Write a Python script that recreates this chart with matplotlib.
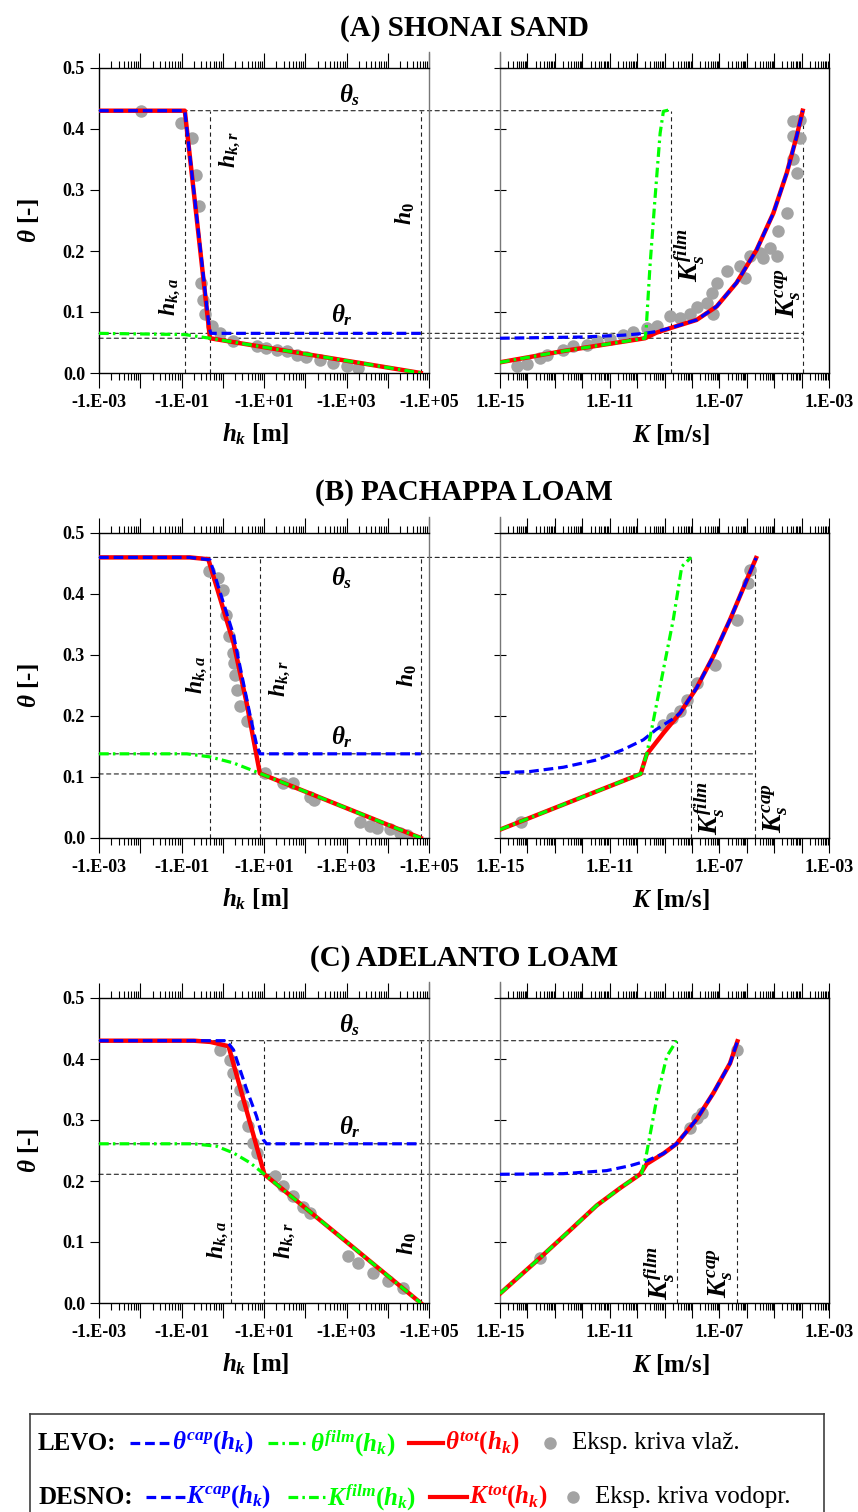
import numpy as np
import matplotlib
matplotlib.use('Agg')
import matplotlib.pyplot as plt
from matplotlib.ticker import FixedLocator, LogLocator, NullFormatter, FuncFormatter, MultipleLocator, FormatStrFormatter
from matplotlib.patches import ConnectionPatch

plt.rcParams['font.family'] = ['Liberation Serif', 'DejaVu Serif']
plt.rcParams['font.weight'] = 'bold'
plt.rcParams['mathtext.fontset'] = 'custom'
plt.rcParams['mathtext.rm'] = 'Liberation Serif:bold'
plt.rcParams['mathtext.it'] = 'Liberation Serif:italic:bold'
plt.rcParams['mathtext.bf'] = 'Liberation Serif:bold'
plt.rcParams['lines.scale_dashes'] = False

SIVA = '#a3a3a3'
ZELENA = '#00ff00'
CRT = '#222222'

# ---------------- (A) SHONAI SAND ----------------
A_ths, A_thr, A_thkr = 0.43, 0.065, 0.057
A_lghka, A_lghkr, A_lgh0 = -0.92, -0.31, 4.8
A_lgKfilm, A_lgKcap = -8.76, -3.96
# levo: theta(h), x = log10|h| [m]
A_tot_lgh = [-3, -0.92, -0.31, 4.8]
A_tot_th = [0.43, 0.43, 0.057, 0.0]
A_cap_lgh = [-3, -0.92, -0.33, -0.29, 4.8]
A_cap_th = [0.43, 0.43, 0.075, 0.065, 0.065]
A_film_lgh = [-3, -0.92, -0.31, 4.8]
A_film_th = [0.065, 0.063, 0.057, 0.0]
A_pts_lgh = [-1.97, -1.01, -0.75, -0.65, -0.58, -0.53, -0.49, -0.43, -0.27, -0.07, 0.26,
             0.82, 1.06, 1.31, 1.55, 1.79, 2.03, 2.36, 2.68, 3.0, 3.29]
A_pts_th = [0.43, 0.41, 0.385, 0.325, 0.273, 0.147, 0.12, 0.096, 0.077, 0.066, 0.052,
            0.044, 0.041, 0.038, 0.036, 0.030, 0.027, 0.022, 0.016, 0.011, 0.008]
# desno: theta(K), x = log10 K [m/s]
A_Ktot_lg = [-15, -12.69, -9.71, -9.3, -8.76, -7.83, -7.1, -6.37, -5.64, -5.03, -4.54, -4.18, -3.96]
A_Ktot_th = [0.0175, 0.036, 0.057, 0.066, 0.074, 0.087, 0.109, 0.148, 0.202, 0.262, 0.328, 0.388, 0.43]
A_Kcap_lg = [-15, -12.0, -10.5, -9.71, -9.3, -8.76, -7.83, -7.1, -6.37, -5.64, -5.03, -4.54, -4.18, -3.96]
A_Kcap_th = [0.057, 0.059, 0.062, 0.065, 0.068, 0.074, 0.087, 0.109, 0.148, 0.202, 0.262, 0.328, 0.388, 0.43]
A_Kfilm_lg = [-15, -12.69, -9.71, -9.67, -9.53, -9.35, -9.16, -9.04, -8.76]
A_Kfilm_th = [0.0175, 0.036, 0.057, 0.071, 0.175, 0.284, 0.393, 0.429, 0.432]
A_Kpts_lg = [-14.39, -14.03, -13.54, -13.30, -12.69, -12.33, -11.84, -11.47, -10.99, -10.50, -10.14,
             -9.65, -9.29, -8.80, -8.43, -8.07, -7.83, -7.46, -7.22, -7.28, -7.10, -6.73, -6.25,
             -6.06, -5.88, -5.52, -5.40, -5.15, -4.91, -4.85, -4.54, -4.18, -4.30, -4.30, -4.06,
             -4.30, -4.06]
A_Kpts_th = [0.011, 0.014, 0.025, 0.030, 0.038, 0.044, 0.046, 0.052, 0.055, 0.063, 0.068,
             0.074, 0.077, 0.093, 0.090, 0.096, 0.109, 0.115, 0.096, 0.131, 0.148, 0.167, 0.175,
             0.156, 0.191, 0.197, 0.189, 0.205, 0.191, 0.232, 0.262, 0.328, 0.350, 0.388, 0.385,
             0.413, 0.415]

# ---------------- (B) PACHAPPA LOAM ----------------
B_ths, B_thr, B_thkr = 0.46, 0.138, 0.105
B_lghka, B_lghkr, B_lgh0 = -0.31, 0.90, 4.8
B_lgKfilm, B_lgKcap = -8.03, -5.70
B_tot_lgh = [-3, -0.8, -0.35, 0.26, 0.58, 0.90, 4.8]
B_tot_th = [0.46, 0.46, 0.457, 0.32, 0.221, 0.106, 0.0]
B_cap_lgh = [-3, -0.8, -0.31, 0.26, 0.66, 0.82, 0.90, 4.8]
B_cap_th = [0.46, 0.46, 0.456, 0.333, 0.202, 0.153, 0.138, 0.138]
B_film_lgh = [-3, -0.87, -0.31, 0.26, 0.90, 4.8]
B_film_th = [0.138, 0.138, 0.133, 0.123, 0.106, 0.0]
B_pts_lgh = [-0.33, -0.11, 0.0, 0.09, 0.16, 0.24, 0.28, 0.30, 0.35, 0.43, 0.58,
             1.02, 1.47, 1.71, 2.12, 2.20, 3.33, 3.57, 3.73, 4.05, 4.30, 4.46]
B_pts_th = [0.437, 0.426, 0.407, 0.366, 0.331, 0.303, 0.287, 0.268, 0.243, 0.216, 0.191,
            0.107, 0.090, 0.090, 0.068, 0.063, 0.027, 0.019, 0.016, 0.014, 0.008, 0.005]
B_Ktot_lg = [-15, -9.87, -9.65, -9.04, -8.43, -7.83, -7.22, -6.61, -6.0, -5.66]
B_Ktot_th = [0.0137, 0.105, 0.137, 0.172, 0.205, 0.246, 0.298, 0.358, 0.423, 0.459]
B_Kcap_lg = [-15, -13.9, -12.69, -11.47, -10.5, -9.77, -9.3, -8.7, -8.43, -7.83, -7.22, -6.61, -6.0, -5.66]
B_Kcap_th = [0.107, 0.109, 0.116, 0.128, 0.145, 0.161, 0.178, 0.195, 0.205, 0.246, 0.298, 0.358, 0.423, 0.459]
B_Kfilm_lg = [-15, -9.87, -9.65, -9.47, -9.04, -8.68, -8.37, -8.03]
B_Kfilm_th = [0.0137, 0.105, 0.137, 0.178, 0.276, 0.358, 0.445, 0.46]
B_Kpts_lg = [-14.25, -9.04, -8.74, -8.43, -8.19, -7.83, -7.16, -6.37, -5.94, -5.88]
B_Kpts_th = [0.027, 0.186, 0.197, 0.208, 0.227, 0.254, 0.283, 0.358, 0.418, 0.440]

# ---------------- (C) ADELANTO LOAM ----------------
C_ths, C_thr, C_thkr = 0.43, 0.261, 0.211
C_lghka, C_lghkr, C_lgh0 = 0.19, 1.01, 4.8
C_lgKfilm, C_lgKcap = -8.56, -6.34
C_tot_lgh = [-3, -0.7, -0.3, 0.14, 1.01, 4.8]
C_tot_th = [0.43, 0.43, 0.428, 0.421, 0.211, 0.0]
C_cap_lgh = [-3, 0.09, 0.26, 0.58, 0.82, 0.98, 1.06, 4.8]
C_cap_th = [0.43, 0.43, 0.415, 0.350, 0.306, 0.268, 0.261, 0.261]
C_film_lgh = [-3, -0.71, -0.15, 0.26, 0.66, 1.01, 4.8]
C_film_th = [0.261, 0.261, 0.257, 0.246, 0.230, 0.211, 0.0]
C_pts_lgh = [-0.07, 0.18, 0.26, 0.42, 0.50, 0.62, 0.74, 0.82, 1.27, 1.47, 1.71, 1.95, 2.12,
             3.04, 3.29, 3.65, 4.01, 4.38]
C_pts_th = [0.415, 0.399, 0.377, 0.350, 0.325, 0.290, 0.262, 0.246, 0.208, 0.191, 0.175, 0.158, 0.148,
            0.077, 0.066, 0.049, 0.036, 0.025]
C_Ktot_lg = [-15, -13.54, -12.5, -11.47, -10.6, -9.89, -9.65, -9.04, -8.56, -7.83, -7.22, -6.61, -6.34]
C_Ktot_th = [0.0153, 0.074, 0.117, 0.160, 0.189, 0.211, 0.228, 0.245, 0.261, 0.301, 0.344, 0.393, 0.429]
C_Kcap_lg = [-15, -12.69, -11.11, -10.26, -9.65, -9.04, -8.56, -7.83, -7.22, -6.61, -6.34]
C_Kcap_th = [0.211, 0.212, 0.217, 0.225, 0.233, 0.245, 0.261, 0.301, 0.344, 0.393, 0.429]
C_Kfilm_lg = [-15, -13.54, -12.5, -11.47, -10.6, -9.83, -9.65, -9.29, -8.92, -8.56]
C_Kfilm_th = [0.0153, 0.074, 0.117, 0.160, 0.189, 0.213, 0.246, 0.333, 0.404, 0.43]
C_Kpts_lg = [-13.54, -8.07, -7.83, -7.64, -6.37]
C_Kpts_th = [0.074, 0.287, 0.303, 0.311, 0.415]

naslovi = ['(A) SHONAI SAND', '(B) PACHAPPA LOAM', '(C) ADELANTO LOAM']

tla = [
    dict(ths=A_ths, thr=A_thr, thkr=A_thkr, ka=A_lghka, kr=A_lghkr, h0=A_lgh0, Kf=A_lgKfilm, Kc=A_lgKcap,
         tot=(A_tot_lgh, A_tot_th), cap=(A_cap_lgh, A_cap_th), film=(A_film_lgh, A_film_th),
         pts=(A_pts_lgh, A_pts_th), Ktot=(A_Ktot_lg, A_Ktot_th), Kcap=(A_Kcap_lg, A_Kcap_th),
         Kfilm=(A_Kfilm_lg, A_Kfilm_th), Kpts=(A_Kpts_lg, A_Kpts_th)),
    dict(ths=B_ths, thr=B_thr, thkr=B_thkr, ka=B_lghka, kr=B_lghkr, h0=B_lgh0, Kf=B_lgKfilm, Kc=B_lgKcap,
         tot=(B_tot_lgh, B_tot_th), cap=(B_cap_lgh, B_cap_th), film=(B_film_lgh, B_film_th),
         pts=(B_pts_lgh, B_pts_th), Ktot=(B_Ktot_lg, B_Ktot_th), Kcap=(B_Kcap_lg, B_Kcap_th),
         Kfilm=(B_Kfilm_lg, B_Kfilm_th), Kpts=(B_Kpts_lg, B_Kpts_th)),
    dict(ths=C_ths, thr=C_thr, thkr=C_thkr, ka=C_lghka, kr=C_lghkr, h0=C_lgh0, Kf=C_lgKfilm, Kc=C_lgKcap,
         tot=(C_tot_lgh, C_tot_th), cap=(C_cap_lgh, C_cap_th), film=(C_film_lgh, C_film_th),
         pts=(C_pts_lgh, C_pts_th), Ktot=(C_Ktot_lg, C_Ktot_th), Kcap=(C_Kcap_lg, C_Kcap_th),
         Kfilm=(C_Kfilm_lg, C_Kfilm_th), Kpts=(C_Kpts_lg, C_Kpts_th)),
]

# polozaj oznak (log10 x, theta)
oznake = [
    dict(ths=(3.08, 0.456), thr=(2.89, 0.095), hka=(-1.28, 0.125), hkr=(0.18, 0.366), h0=(4.42, 0.262),
         Kf=(-8.07, 0.193), Kc=(-4.5, 0.131)),
    dict(ths=(2.89, 0.426), thr=(2.89, 0.166), hka=(-0.63, 0.267), hkr=(1.39, 0.262), h0=(4.47, 0.267),
         Kf=(-7.34, 0.049), Kc=(-4.97, 0.049)),
    dict(ths=(3.08, 0.456), thr=(3.08, 0.289), hka=(-0.11, 0.103), hkr=(1.51, 0.103), h0=(4.47, 0.098),
         Kf=(-9.16, 0.049), Kc=(-6.98, 0.049)),
]

W, H = 858, 1512
fig = plt.figure(figsize=(W / 100, H / 100), dpi=100)

dno = [373, 838, 1303]
vis = 305


def p(v):
    return 10.0 ** np.asarray(v, dtype=float)


def lev_fmt(v, pos):
    e = int(round(np.log10(v)))
    return '-1.E%+03d' % e if e % 2 else ''


def des_fmt(v, pos):
    e = int(round(np.log10(v)))
    return '1.E%+03d' % e if (e + 15) % 4 == 0 else ''


def osi(ax, xmin, xmax, fmt):
    ax.set_xscale('log')
    ax.set_xlim(10.0 ** xmin, 10.0 ** xmax)
    ax.set_ylim(0, 0.5)
    ax.set_facecolor('none')
    ax.xaxis.set_major_locator(FixedLocator(10.0 ** np.arange(xmin, xmax + 1)))
    ax.xaxis.set_major_formatter(FuncFormatter(fmt))
    ax.xaxis.set_minor_locator(LogLocator(base=10, subs=np.arange(2, 10), numticks=100))
    ax.xaxis.set_minor_formatter(NullFormatter())
    ax.tick_params(axis='x', which='both', direction='out', top=True, bottom=True, labeltop=False,
                   labelsize=13, pad=4, width=0.8)
    ax.tick_params(axis='x', which='major', length=11)
    ax.tick_params(axis='x', which='minor', length=4.8)
    ax.yaxis.set_major_locator(MultipleLocator(0.1))


for i, s in enumerate(tla):
    b = 1 - dno[i] / H
    axL = fig.add_axes([99 / W, b, 330 / W, vis / H])
    axR = fig.add_axes([500 / W, b, 329 / W, vis / H])
    osi(axL, -3, 5, lev_fmt)
    osi(axR, -15, -3, des_fmt)

    axL.yaxis.set_major_formatter(FormatStrFormatter('%.1f'))
    axL.tick_params(axis='y', direction='out', length=6.5, width=0.8, labelsize=13, right=False)
    axR.tick_params(axis='y', direction='inout', length=8, width=0.8, labelleft=False, right=False)
    axL.spines['right'].set_color('#777777')
    axL.spines['right'].set_bounds(0, 0.527)
    axR.spines['left'].set_color('#777777')
    axR.spines['left'].set_bounds(0, 0.527)
    for ax in (axL, axR):
        for sp in ax.spines.values():
            sp.set_linewidth(1.0)

    axL.set_xlabel(r'$h_k\ \text{[m]}$', fontsize=18)
    axL.xaxis.set_label_coords(0.475, -0.16)
    axL.set_ylabel(r'$\theta\ \text{[-]}$', fontsize=18)
    axL.yaxis.set_label_coords(-0.175, 0.5)
    axR.set_xlabel(r'$K\ \text{[m/s]}$', fontsize=18)
    axR.xaxis.set_label_coords(0.52, -0.16)

    # pomozne crte
    for lg in (s['ka'], s['kr'], s['h0']):
        axL.plot([10.0 ** lg] * 2, [0, s['ths']], color=CRT, lw=0.8, dashes=(3, 2.5), zorder=1)
    for lg in (s['Kf'], s['Kc']):
        axR.plot([10.0 ** lg] * 2, [0, s['ths']], color=CRT, lw=0.8, dashes=(3, 2.5), zorder=1)
    for th, kend in ((s['ths'], s['Kf']), (s['thr'], s['Kc']), (s['thkr'], s['Kc'])):
        con = ConnectionPatch(xyA=(1e-3, th), coordsA=axL.transData,
                              xyB=(10.0 ** kend, th), coordsB=axR.transData,
                              color=CRT, lw=0.8, linestyle=(0, (3, 2.5)), zorder=-1)
        fig.add_artist(con)

    # levo
    axL.plot(p(s['pts'][0]), s['pts'][1], 'o', color=SIVA, ms=9, mec='none', zorder=2)
    axL.plot(p(s['tot'][0]), s['tot'][1], '-', color='red', lw=3.2, zorder=3)
    axL.plot(p(s['cap'][0]), s['cap'][1], color='blue', lw=2.3, dashes=(7, 3.5), zorder=4)
    axL.plot(p(s['film'][0]), s['film'][1], color=ZELENA, lw=2.3, dashes=(7, 3, 1.8, 3), zorder=5)
    # desno
    axR.plot(p(s['Kpts'][0]), s['Kpts'][1], 'o', color=SIVA, ms=9, mec='none', zorder=2)
    axR.plot(p(s['Ktot'][0]), s['Ktot'][1], '-', color='red', lw=3.2, zorder=3)
    axR.plot(p(s['Kcap'][0]), s['Kcap'][1], color='blue', lw=2.3, dashes=(7, 3.5), zorder=4)
    axR.plot(p(s['Kfilm'][0]), s['Kfilm'][1], color=ZELENA, lw=2.3, dashes=(7, 3, 1.8, 3), zorder=5)

    o = oznake[i]
    axL.text(10 ** o['ths'][0], o['ths'][1], r'$\theta_s$', fontsize=18, ha='center', va='center')
    axL.text(10 ** o['thr'][0], o['thr'][1], r'$\theta_r$', fontsize=18, ha='center', va='center')
    axL.text(10 ** o['hka'][0], o['hka'][1], r'$h_{k,a}$', fontsize=17, rotation=90, ha='center', va='center')
    axL.text(10 ** o['hkr'][0], o['hkr'][1], r'$h_{k,r}$', fontsize=17, rotation=90, ha='center', va='center')
    axL.text(10 ** o['h0'][0], o['h0'][1], r'$h_0$', fontsize=17, rotation=90, ha='center', va='center')
    axR.text(10 ** o['Kf'][0], o['Kf'][1], r'$K_s^{film}$', fontsize=20, rotation=90, ha='center', va='center')
    axR.text(10 ** o['Kc'][0], o['Kc'][1], r'$K_s^{cap}$', fontsize=20, rotation=90, ha='center', va='center')

    fig.text(464 / W, 1 - (dno[i] - 345) / H, naslovi[i], fontsize=21, ha='center', va='center')

# legenda
axg = fig.add_axes([30 / W, 0, (824 - 30) / W, (H - 1414) / H])
axg.set_xlim(30, 824)
axg.set_ylim(H, 1414)
axg.set_xticks([])
axg.set_yticks([])
for k, sp in axg.spines.items():
    sp.set_color('#404040')
    sp.set_linewidth(1.2)
axg.spines['bottom'].set_visible(False)

vrste = [
    (1443, 'LEVO:', (130, 171), r'$\theta^{cap}(h_k)$', (268, 308), r'$\theta^{film}(h_k)$',
     (409, 443), r'$\theta^{tot}(h_k)$', 550, 'Eksp. kriva vlaž.'),
    (1497, 'DESNO:', (146, 185), r'$K^{cap}(h_k)$', (288, 325), r'$K^{film}(h_k)$',
     (430, 467), r'$K^{tot}(h_k)$', 573, 'Eksp. kriva vodopr.'),
]
for y, ime, bl, bt, gl, gt, rl, rt, dx, et in vrste:
    axg.text(38, y, ime, fontsize=18, ha='left', va='center')
    axg.plot(bl, [y, y], color='blue', lw=2.3, dashes=(7, 3.5))
    axg.text(bl[1] + 1, y, bt, fontsize=18, color='blue', ha='left', va='center')
    axg.plot(gl, [y, y], color=ZELENA, lw=2.3, dashes=(7, 3, 1.8, 3))
    axg.text(gl[1] + 2, y, gt, fontsize=18, color=ZELENA, ha='left', va='center')
    axg.plot(rl, [y, y], color='red', lw=3)
    axg.text(rl[1] + 2, y, rt, fontsize=18, color='red', ha='left', va='center')
    axg.plot([dx], [y], 'o', color=SIVA, ms=9, mec='none')
    axg.text(dx + 22, y, et, fontsize=18, fontweight='normal', ha='left', va='center')

fig.savefig('out.png', dpi=100)
